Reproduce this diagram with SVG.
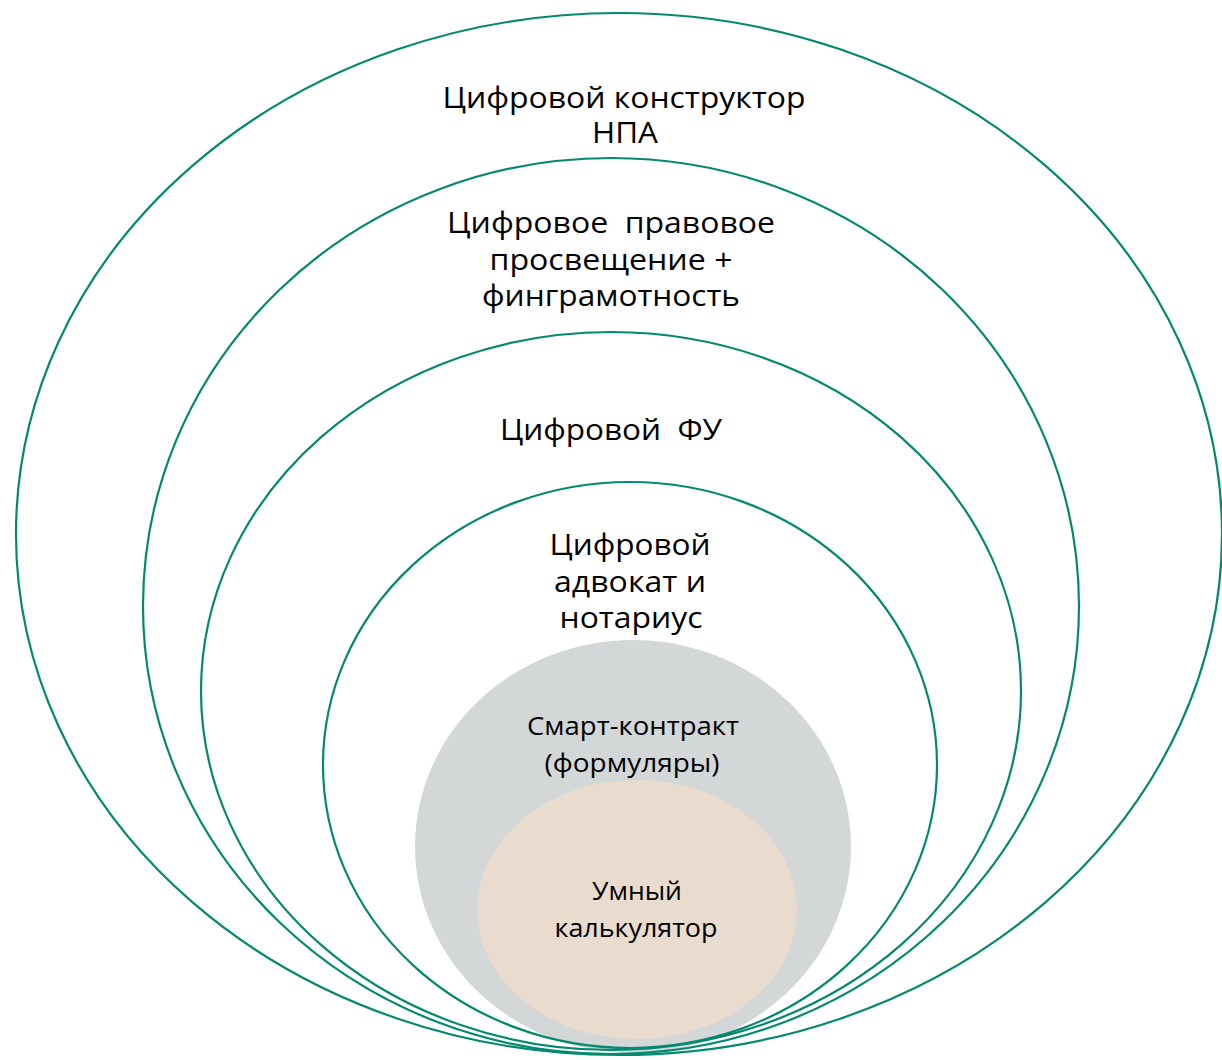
<svg xmlns="http://www.w3.org/2000/svg" width="1222" height="1060" viewBox="0 0 1222 1060">
<style>
.ring{fill:none;stroke:#03896f;stroke-width:2.2}
.t{font-family:"Open Sans","Noto Sans","Liberation Sans",sans-serif;fill:#000;text-anchor:middle}
.big{font-size:30px}
.small{font-size:26px}
</style>
<rect width="1222" height="1060" fill="#fff"/>
<g id="smart-contract">
<ellipse cx="633" cy="846.5" rx="218" ry="206.5" fill="#d3d7d7"/>
</g>
<g id="calculator">
<ellipse cx="637" cy="909.5" rx="160" ry="129.5" fill="#eadbcf"/>
</g>
<g id="connectors"></g>
<g id="constructor-npa">
<ellipse class="ring" cx="619" cy="534" rx="603" ry="521"/>
<text class="t big" x="624" y="108" textLength="363" lengthAdjust="spacingAndGlyphs">Цифровой конструктор</text>
<text class="t big" x="625" y="143" textLength="66" lengthAdjust="spacingAndGlyphs">НПА</text>
</g>
<g id="legal-education">
<ellipse class="ring" cx="611" cy="606" rx="468" ry="448"/>
<text class="t big" x="611" y="233" xml:space="preserve" textLength="328" lengthAdjust="spacingAndGlyphs">Цифровое  правовое</text>
<text class="t big" x="611" y="270" textLength="243" lengthAdjust="spacingAndGlyphs">просвещение +</text>
<text class="t big" x="611" y="306" textLength="258" lengthAdjust="spacingAndGlyphs">финграмотность</text>
</g>
<g id="digital-fu">
<ellipse class="ring" cx="611" cy="691" rx="410" ry="359"/>
<text class="t big" x="611" y="440" xml:space="preserve" textLength="222" lengthAdjust="spacingAndGlyphs">Цифровой  ФУ</text>
</g>
<g id="lawyer-notary">
<ellipse class="ring" cx="630" cy="765" rx="307" ry="283"/>
<text class="t big" x="630" y="555" textLength="161" lengthAdjust="spacingAndGlyphs">Цифровой</text>
<text class="t big" x="630" y="592" textLength="152" lengthAdjust="spacingAndGlyphs">адвокат и</text>
<text class="t big" x="631" y="628" textLength="143" lengthAdjust="spacingAndGlyphs">нотариус</text>
</g>
<g id="smart-contract-label">
<text class="t small" x="633" y="735" textLength="212" lengthAdjust="spacingAndGlyphs">Смарт-контракт</text>
<text class="t small" x="632" y="772" textLength="175" lengthAdjust="spacingAndGlyphs">(формуляры)</text>
</g>
<g id="calculator-label">
<text class="t small" x="637" y="900" textLength="90" lengthAdjust="spacingAndGlyphs">Умный</text>
<text class="t small" x="636" y="937" textLength="163" lengthAdjust="spacingAndGlyphs">калькулятор</text>
</g>
</svg>
